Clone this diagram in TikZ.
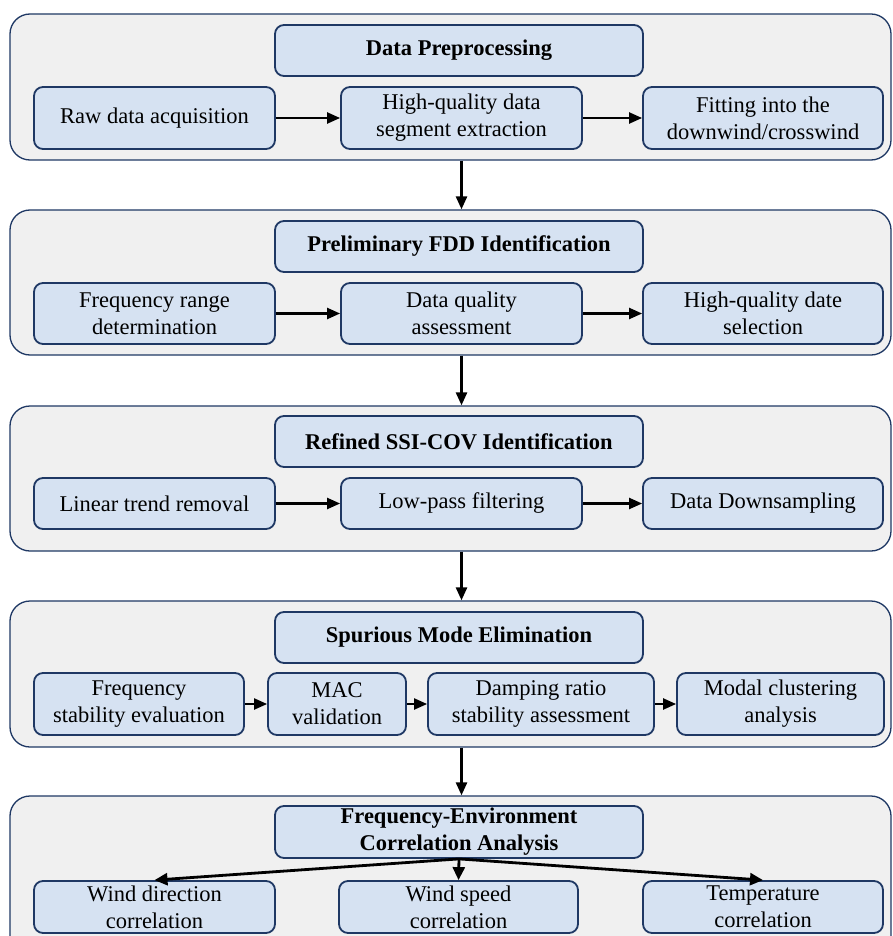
\documentclass[tikz,border=0pt]{standalone}
\usepackage{fontspec}
\setmainfont{Liberation Serif}
\usetikzlibrary{arrows.meta}
\definecolor{navy}{HTML}{1F3864}
\definecolor{boxfill}{HTML}{D6E2F2}
\definecolor{panelfill}{HTML}{F0F0F0}
\newcommand{\mybox}[7][]{%
  \node[#1, minimum width={(#5-#3)*1pt}, minimum height={(#6-#4)*1pt}] (#2) at ({(#3+#5)/2},{(#4+#6)/2}) {#7};}
\begin{document}
\begin{tikzpicture}[x=1pt,y=-1pt,
  panel/.style={draw=navy, line width=1.3pt, fill=panelfill, rounded corners=20pt, inner sep=0pt},
  stepbox/.style={draw=navy, line width=1.8pt, fill=boxfill, rounded corners=9pt, align=center,
    font=\fontsize{22.5}{27}\selectfont, inner sep=0pt},
  titlebox/.style={stepbox, font=\fontsize{22.5}{27}\selectfont\bfseries},
  flow/.style={-{Triangle[length=13pt,width=11pt]}, line width=2.2pt, black},
  thickflow/.style={-{Triangle[length=13pt,width=12pt]}, line width=2.8pt, black}]
\useasboundingbox (0,0) rectangle (892,936);
\clip (0,0) rectangle (892,936);
% panels
\mybox[panel]{p1}{10}{14}{891}{160}{}
\mybox[panel]{p2}{10}{210}{891}{355}{}
\mybox[panel]{p3}{10}{406}{891}{551}{}
\mybox[panel]{p4}{10}{601}{891}{747}{}
\mybox[panel]{p5}{10}{796}{891}{990}{}
% panel 1
\mybox[titlebox]{t1}{275}{25}{643}{76}{Data Preprocessing}
\mybox[stepbox]{a1}{34}{87}{275}{149}{Raw data acquisition}
\mybox[stepbox]{b1}{341}{87}{582}{149}{High-quality data\\segment extraction}
\mybox[stepbox]{c1}{643}{87}{883}{149}{Fitting into the\\downwind/crosswind}
% panel 2
\mybox[titlebox]{t2}{275}{221}{643}{272}{Preliminary FDD Identification}
\mybox[stepbox]{a2}{34}{283}{275}{344}{Frequency range\\determination}
\mybox[stepbox]{b2}{341}{283}{582}{344}{Data quality\\assessment}
\mybox[stepbox]{c2}{643}{283}{883}{344}{High-quality date\\selection}
% panel 3
\mybox[titlebox]{t3}{275}{416}{643}{467}{Refined SSI-COV Identification}
\mybox[stepbox]{a3}{34}{478}{275}{529}{Linear trend removal}
\mybox[stepbox]{b3}{341}{478}{582}{529}{Low-pass filtering}
\mybox[stepbox]{c3}{643}{478}{883}{529}{Data Downsampling}
% panel 4
\mybox[titlebox]{t4}{275}{612}{643}{663}{Spurious Mode Elimination}
\mybox[stepbox]{a4}{34}{673}{244}{735}{Frequency\\stability evaluation}
\mybox[stepbox]{b4}{268}{673}{406}{735}{MAC\\validation}
\mybox[stepbox]{c4}{428}{673}{654}{735}{Damping ratio\\stability assessment}
\mybox[stepbox]{d4}{677}{673}{884}{735}{Modal clustering\\analysis}
% panel 5
\mybox[titlebox]{t5}{275}{806}{643}{858}{Frequency-Environment\\Correlation Analysis}
\mybox[stepbox]{a5}{34}{881}{275}{933}{Wind direction\\correlation}
\mybox[stepbox]{b5}{339}{881}{578}{933}{Wind speed\\correlation}
\mybox[stepbox]{c5}{643}{881}{883}{933}{Temperature\\correlation}
% arrows inside panels
\draw[flow] (a1.east) -- (b1.west);
\draw[flow] (b1.east) -- (c1.west);
\draw[flow] (a2.east) -- (b2.west);
\draw[flow] (b2.east) -- (c2.west);
\draw[flow] (a3.east) -- (b3.west);
\draw[flow] (b3.east) -- (c3.west);
\draw[flow] (a4.east) -- (b4.west);
\draw[flow] (b4.east) -- (c4.west);
\draw[flow] (c4.east) -- (d4.west);
\draw[thickflow] (t5.south) -- (a5.north);
\draw[thickflow] (t5.south) -- (b5.north);
\draw[thickflow] (t5.south) -- (c5.north);
% arrows between panels
\draw[flow, line width=2.6pt] (p1.south -| b1.south) -- (p2.north -| b1.south);
\draw[flow, line width=2.6pt] (p2.south -| b1.south) -- (p3.north -| b1.south);
\draw[flow, line width=2.6pt] (p3.south -| b1.south) -- (p4.north -| b1.south);
\draw[flow, line width=2.6pt] (p4.south -| b1.south) -- (p5.north -| b1.south);
\end{tikzpicture}
\end{document}
